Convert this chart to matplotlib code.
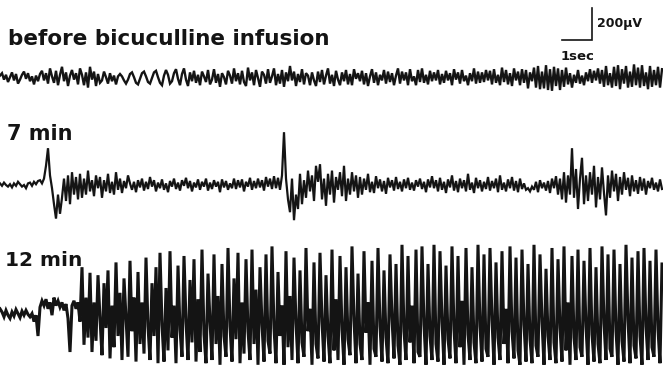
import numpy as np
import matplotlib
matplotlib.use("Agg")
import matplotlib.pyplot as plt

# ---------- DATA (µV, one sample every 1/15 s) ----------
FS = 15.0

before_uv = [
    15, 30, -10, 20, -25, 5, 35, -15, 25, -35, -10, 20, 40, -5, 30, -20, 10, -40, 15, -20,
    25, 45, -15, 30, -35, 60, 10, -30, 45, -45, 20, 70, -20, 35, -50, 15, 50, -10, 30, -40,
    60, 20, -45, 35, -60, 70, -10, 40, -50, 25, -30, -15, 40, 5, -35, 30, -20, 15, -40, 10,
    25, 10, -15, -35, -10, 25, 35, 5, -30, -40, -5, 30, 40, 10, -25, -35, 0, 35, 45, 5,
    -30, -45, 15, 50, 20, -35, -20, 30, 55, -5, -45, 25, 60, -10, -50, 35, -20, 45, -30, 20,
    -45, 40, 10, -25, 50, -40, -10, 55, -30, 25, -55, 30, 5, -40, 45, 15, -35, 60, -20, 30,
    -40, 45, -25, -50, 65, -15, 35, -45, 50, 0, -55, 40, 20, -35, 55, -30, 10, 60, -45, 25,
    -35, 50, -55, 35, -20, 75, -15, 40, -50, 25, -25, 55, -40, 30, 15, -45, 35, -15, -50, 40,
    -25, 50, -40, 15, 60, -35, 20, -50, 45, -10, -45, 35, -20, 50, -40, 25, -45, 55, -5, 30,
    -20, 45, -40, 30, -50, 10, 55, -30, 35, -45, 20, -15, 50, -35, 40, -25, 30, -45, 15, 60,
    -35, 40, -15, 35, -45, 55, -20, 10, -45, 50, -25, 60, -30, 20, -40, 45, -20, 35, -15, 50,
    -40, 25, -30, 45, -15, 30, -45, 55, -10, 35, -35, 50, -20, 15, -45, 30, -20, 60, -35, 40,
    -30, 35, -25, 50, -15, 45, -40, 55, -30, 20, -45, 65, -25, 50, -40, 30, -50, 60, -15, 40,
    -45, 55, -30, 50, -65, 35, -20, 65, -60, 75, -70, 40, -65, 80, -75, 55, -80, 70, -50, 60,
    -75, 50, -55, 65, -40, 30, -60, 20, -30, 50, -35, 15, -45, 35, -20, 55, -30, 45, -15, 60,
    -35, 50, -55, 75, -45, 30, -60, 70, -50, 80, -70, 55, -35, 75, -60, 40, -55, 85, -45, 65,
    -60, 80, -50, 35, -70, 75, -55, 50, -45, 70, -60, 55,
]

min7_uv = [
    10, -5, 15, 0, -10, 5, -15, 10, -5, 20, 5, -10, 0, -20, 10, 15, -5, 20, 5, 25,
    30, 10, 40, 120, 230, 60, -20, -120, -210, -60, -180, -80, 40, -100, 60, -120, 80, -60, 50, -90,
    70, -80, 40, -60, 90, -40, 30, -70, 60, -20, 50, -80, 30, -40, 70, -50, 20, -60, 80, -30,
    40, -50, 25, -20, 60, 10, -30, 20, -45, 30, -15, 40, -35, 20, -25, 50, -10, 30, -40, 15,
    -20, 35, -30, 10, -45, 25, -10, 40, -25, 15, -35, 30, -5, 45, -20, 25, -40, 15, -15, 35,
    -30, 20, -10, 40, -35, 15, -25, 30, -10, 20, -45, 35, -15, 25, -30, 10, -20, 40, -25, 30,
    -15, 35, -40, 20, -10, 45, -30, 25, -20, 40, -15, 30, -35, 50, -10, 40, -25, 55, -20, 45,
    -30, 60, 330, 40, -90, -170, 40, -220, -60, -150, 70, -120, 30, -80, 90, -40, 60, -100, 120, 20,
    130, -90, 40, -130, 70, -60, 90, -110, 50, -30, 80, -70, 120, -100, 40, -60, 80, -40, 60, -80,
    50, -60, 40, -30, 70, -45, 20, -50, 55, -20, 35, -40, 25, -55, 45, -15, 30, -35, 50, -25,
    20, -40, 35, -20, 45, -30, 15, -35, 30, -10, 40, -25, 20, -45, 35, -15, 55, -20, 30, -40,
    45, -30, 20, -50, 35, -15, 60, -35, 25, -45, 40, -20, 30, -40, 70, -30, 15, -50, 45, -20,
    30, -40, 20, -25, 50, -35, 25, -20, 40, -45, 60, -30, 15, -40, 35, -20, 50, -35, 25, -45,
    40, -25, 10, -30, -20, -40, -10, -30, 20, -45, 30, -20, 15, -35, 25, -50, 40, -20, 55, -60,
    40, -90, 80, -110, 60, -60, 230, -80, 100, -150, 40, 170, -120, 60, -100, 80, -60, 120, -140, 50,
    -90, 110, -50, -190, 60, -80, 90, -40, 70, -100, 50, -60, 80, -30, 45, -70, 60, -40, 30, -55,
    50, -35, 40, -60, 25, -20, 45, -30, 15, -40, 35, -25,
]

min12_uv = [
    20, 0, -30, 10, -20, -40, 0, -25, 15, -10, -35, 5, -20, 10, -15, -30, -10, -60, -20, -150,
    30, 70, 40, 80, 20, 60, -20, 90, 40, 70, 30, 60, 10, 50, -40, -250, 40, 70, 20, 60,
    -60, 280, -205, 90, -160, 245, -250, 60, -180, 230, -40, -270, 180, -100, 260, -290, 40, -220, 310, -150,
    120, -300, 210, -40, -280, 320, -120, 90, -310, 250, -200, 60, -260, 340, -90, -300, 180, -150, 280, -320,
    370, -80, -310, 150, -240, 380, -160, 40, -320, 290, -110, -280, 350, -60, -300, 200, -190, 330, -310, 80,
    -250, 390, -140, -320, 240, -60, -300, 360, -200, 100, -330, 300, -150, -280, 400, -90, -310, 210, -170, 370,
    -320, 60, -260, 330, -120, -300, 390, -200, 140, -330, 280, -80, -310, 360, -180, -260, 410, -100, -320, 250,
    -150, 40, -330, 380, -220, 100, -300, 340, -70, -320, 260, -190, -280, 400, -120, 20, -330, 310, -200, -290,
    370, -60, -310, 230, -150, -320, 390, -240, 80, -300, 350, -110, -330, 280, -170, -270, 410, -50, -320, 240,
    -200, -300, 380, -130, 60, -330, 320, -230, -280, 400, -90, -310, 260, -160, -320, 360, -40, -290, 300, -210,
    -330, 420, -120, -300, 350, -190, 40, -320, 390, -250, -280, 410, -80, -330, 300, -150, -300, 420, -200, -310,
    380, -60, -330, 290, -170, -290, 410, -110, -320, 350, -220, 70, -330, 400, -140, -300, 280, -190, -320, 420,
    -90, -310, 360, -230, -280, 400, -50, -330, 310, -160, -300, 380, -200, 20, -320, 410, -120, -290, 340, -240,
    -330, 390, -80, -310, 300, -170, -320, 420, -210, -280, 360, -60, -330, 270, -150, -300, 400, -190, -320, 330,
    -100, -310, 410, -240, 60, -330, 350, -160, -300, 390, -220, -280, 320, -90, -330, 400, -140, -310, 280, -200,
    -320, 410, -70, -300, 360, -230, -280, 390, -120, -330, 300, -180, -310, 420, -50, -320, 340, -210, -290, 380,
    -150, -330, 400, -90, -300, 320, -220, -280, 390, -110, -320, 300,
]

labels = ["before bicuculline infusion", "7 min", "12 min"]
scale_sec = 1
scale_uv = 200

# ---------- LAYOUT ----------
W, H = 663, 371
PX_PER_SEC = 30.0
UV_PER_PX = 200 / 32.0

def py(p):
    # pixel row -> µV in axes units
    return -p * UV_PER_PX

fig = plt.figure(figsize=(W / 100, H / 100), dpi=100)
ax = fig.add_axes([0, 0, 1, 1])
ax.set_xlim(0, W / PX_PER_SEC)
ax.set_ylim(py(H), 0)
ax.axis("off")

ink = "#141414"
traces = [
    (before_uv, 78, 1.7),
    (min7_uv, 185, 1.6),
    (min12_uv, 312, 2.2),
]
for vals, base_px, lw in traces:
    v = np.array(vals, dtype=float)
    t = np.arange(len(v)) / FS
    ax.plot(t, py(base_px) + v, color=ink, lw=lw, solid_joinstyle="miter")

# labels
font = dict(family="DejaVu Sans", weight="bold", color=ink)
ax.text(8 / PX_PER_SEC, py(39), labels[0], fontsize=15.5, va="center", ha="left", **font)
ax.text(7 / PX_PER_SEC, py(134), labels[1], fontsize=15, va="center", ha="left", **font)
ax.text(5 / PX_PER_SEC, py(261), labels[2], fontsize=14.5, va="center", ha="left", **font)

# calibration bar: 1 sec / 200 µV
x1 = 592 / PX_PER_SEC
y0 = py(40)
ax.plot([x1 - scale_sec, x1, x1], [y0, y0, y0 + scale_uv], color=ink, lw=1.2,
        solid_joinstyle="miter")
ax.text(x1 + 5 / PX_PER_SEC, y0 + scale_uv * 0.5, f"{scale_uv}\u00b5V", fontsize=9,
        va="center", ha="left", **font)
ax.text(x1 - scale_sec * 0.5, py(56), f"{scale_sec}sec", fontsize=9.5,
        va="center", ha="center", **font)

fig.savefig("out.png", dpi=100, facecolor="white")
